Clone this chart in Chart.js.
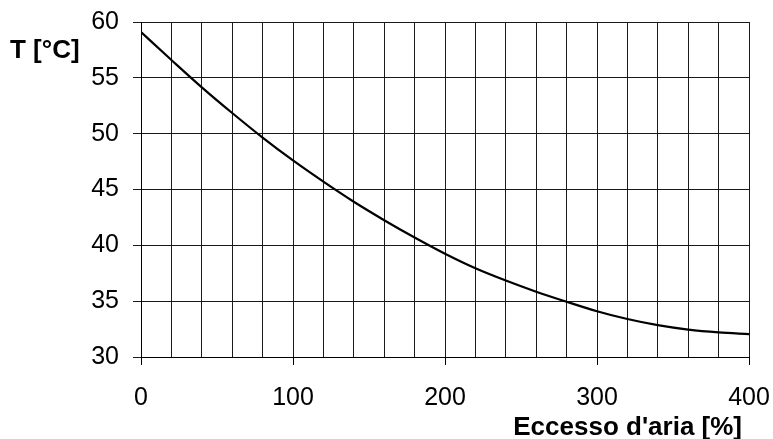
<!DOCTYPE html>
<html>
<head>
<meta charset="utf-8">
<script src="https://cdn.jsdelivr.net/npm/chart.js@4/dist/chart.umd.min.js"></script>
<style>
  html, body { margin: 0; padding: 0; background: #fff; }
  #wrap { width: 773px; height: 439px; position: relative; }
</style>
</head>
<body>
<div id="wrap"><canvas id="chart"></canvas></div>
<script>
const excessAir = [0, 20, 40, 60, 80, 100, 120, 140, 160, 180, 200, 220, 240, 260, 280, 300, 320, 340, 360, 380, 400];
const temperature = [59.1, 56.6, 54.15, 51.85, 49.65, 47.6, 45.7, 43.9, 42.25, 40.7, 39.25, 37.95, 36.85, 35.85, 34.95, 34.1, 33.4, 32.85, 32.45, 32.2, 32.05];
const yTitle = 'T [°C]';
const xTitle = "Eccesso d'aria [%]";

const fontFamily = '"Liberation Sans", Arial, sans-serif';
const gridColor = '#1a1a1a';

// label overflow padding is ignored, layout.padding places the plot area
function noOverflow(scale) {
    scale.paddingTop = 0;
    scale.paddingBottom = 0;
    scale.paddingLeft = 0;
    scale.paddingRight = 0;
}

// both axis titles sit horizontally, so draw them by hand
const axisTitles = {
    id: 'axisTitles',
    afterDraw(chart) {
        const ctx = chart.ctx;
        ctx.save();
        ctx.font = 'bold 26px ' + fontFamily;
        ctx.fillStyle = '#000';
        ctx.textBaseline = 'alphabetic';
        ctx.textAlign = 'left';
        ctx.fillText(yTitle, 10, 58);
        ctx.textAlign = 'right';
        ctx.fillText(xTitle, chart.chartArea.right - 7, 435);
        ctx.restore();
    }
};

new Chart(document.getElementById('chart'), {
    type: 'line',
    data: {
        datasets: [{
            data: excessAir.map((x, i) => ({ x: x, y: temperature[i] })),
            borderColor: '#000',
            borderWidth: 2.2,
            pointRadius: 0,
            fill: false,
            cubicInterpolationMode: 'monotone'
        }]
    },
    options: {
        responsive: true,
        maintainAspectRatio: false,
        animation: false,
        layout: { padding: { top: 22, right: 24, bottom: 0, left: 0 } },
        plugins: {
            legend: { display: false },
            tooltip: { enabled: false }
        },
        scales: {
            x: {
                type: 'linear',
                position: 'bottom',
                min: 0,
                max: 400,
                ticks: { stepSize: 20, display: false },
                grid: { color: gridColor, lineWidth: 1, drawTicks: false },
                border: { display: true, color: '#000' },
                afterFit: scale => { noOverflow(scale); scale.height = 0; }
            },
            x2: {
                type: 'linear',
                position: 'bottom',
                min: 0,
                max: 400,
                ticks: {
                    stepSize: 100,
                    color: '#000',
                    padding: 18,
                    maxRotation: 0,
                    font: { family: fontFamily, size: 25 }
                },
                grid: { drawOnChartArea: false, color: '#000', tickLength: 8 },
                border: { display: false },
                afterFit: scale => { noOverflow(scale); scale.height = 82; }
            },
            y: {
                min: 30,
                max: 60,
                ticks: {
                    stepSize: 5,
                    color: '#000',
                    padding: 14,
                    font: { family: fontFamily, size: 25 }
                },
                grid: { color: gridColor, lineWidth: 1, tickLength: 8 },
                border: { display: true, color: '#000' },
                afterFit: scale => { noOverflow(scale); scale.width = 141; }
            }
        }
    },
    plugins: [axisTitles]
});
</script>
</body>
</html>
